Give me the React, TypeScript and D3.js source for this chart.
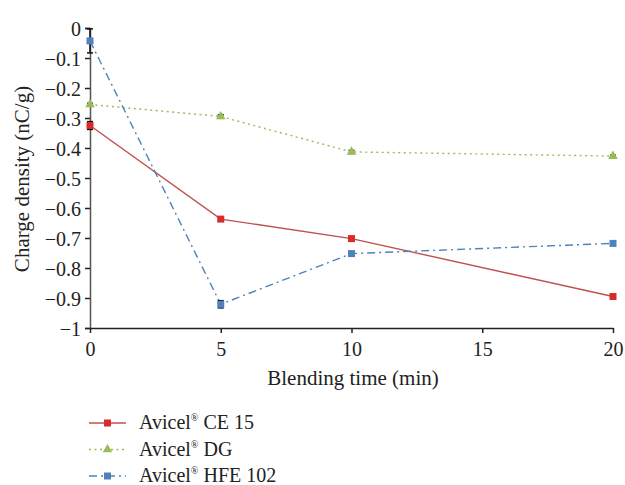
import React, { useRef, useEffect } from 'react';
import * as d3 from 'd3';

const times = [0, 5, 10, 20];
const seriesNames = ['CE 15', 'DG', 'HFE 102'];
const ce15 = [-0.325, -0.637, -0.702, -0.895];
const dg = [-0.255, -0.295, -0.413, -0.427];
const hfe102 = [-0.043, -0.921, -0.752, -0.718];
const ce15Err = [0.013, 0.006, 0.006, 0.004];
const dgErr = [0.004, 0.006, 0.005, 0.003];
const hfe102Err = [0.04, 0.012, 0.005, 0.004];
const xTicks = [0, 5, 10, 15, 20];
const yTicks = [0, -0.1, -0.2, -0.3, -0.4, -0.5, -0.6, -0.7, -0.8, -0.9, -1];

function App() {
  const ref = useRef<SVGSVGElement>(null);

  useEffect(() => {
    const svg = d3.select(ref.current);
    svg.selectAll('*').remove();
    const font = '"Liberation Serif", "DejaVu Serif", serif';

    const x = d3.scaleLinear().domain([0, 20]).range([90, 613]);
    const y = d3.scaleLinear().domain([-1, 0]).range([328, 28]);

    const series = [
      { name: seriesNames[0], values: ce15, err: ce15Err, line: '#c0504d', mark: '#d92b2b', dash: null, shape: 'square' },
      { name: seriesNames[1], values: dg, err: dgErr, line: '#9bbb59', mark: '#9bbb59', dash: '2,3.5', shape: 'triangle' },
      { name: seriesNames[2], values: hfe102, err: hfe102Err, line: '#4f81bd', mark: '#4f81bd', dash: '8,4,2,4', shape: 'square' },
    ];

    // axes
    const yAxis = svg.append('g').attr('transform', 'translate(90,0)')
      .call(d3.axisLeft(y).tickValues(yTicks).tickSize(5).tickFormat(d => d3.format('')(+d).replace('-', '\u2212')));
    yAxis.select('.domain').attr('stroke', '#555').attr('stroke-width', 1.5);
    yAxis.selectAll('.tick line').attr('stroke', '#222').attr('stroke-width', 1.5);
    yAxis.selectAll('.tick text').attr('font-family', font).attr('font-size', 20).attr('fill', '#222').attr('x', -9).attr('dy', '0.35em');

    const xAxis = svg.append('g').attr('transform', 'translate(0,328)')
      .call(d3.axisBottom(x).tickValues(xTicks).tickSize(5).tickSizeOuter(0));
    xAxis.select('.domain').attr('stroke', '#222').attr('stroke-width', 1.5);
    xAxis.selectAll('.tick line').attr('stroke', '#222').attr('stroke-width', 1.5);
    xAxis.selectAll('.tick text').attr('font-family', font).attr('font-size', 20).attr('fill', '#222').attr('y', 14);

    svg.append('text').attr('x', 353).attr('y', 385).attr('text-anchor', 'middle')
      .attr('font-family', font).attr('font-size', 21).attr('fill', '#222').text('Blending time (min)');
    svg.append('text').attr('transform', 'translate(29,179) rotate(-90)').attr('text-anchor', 'middle')
      .attr('font-family', font).attr('font-size', 21).attr('fill', '#222').text('Charge density (nC/g)');

    const line = d3.line<number>().x((_, i) => x(times[i])).y(d => y(d));

    const drawMarker = (g: any, s: any, cx: number, cy: number) => {
      if (s.shape === 'square') {
        g.append('rect').attr('x', cx - 3.5).attr('y', cy - 3.5).attr('width', 7).attr('height', 7).attr('fill', s.mark);
      } else {
        g.append('path').attr('d', d3.symbol().type(d3.symbolTriangle).size(40)()).attr('transform', `translate(${cx},${cy})`).attr('fill', s.mark);
      }
    };

    series.forEach(s => {
      const g = svg.append('g');
      g.append('path').datum(s.values).attr('d', line).attr('fill', 'none')
        .attr('stroke', s.line).attr('stroke-width', 1.4).attr('stroke-dasharray', s.dash);
      s.values.forEach((v, i) => {
        const cx = x(times[i]);
        const y1 = y(v + s.err[i]);
        const y2 = y(v - s.err[i]);
        g.append('line').attr('x1', cx).attr('x2', cx).attr('y1', y1).attr('y2', y2).attr('stroke', '#111').attr('stroke-width', 1.5);
        g.append('line').attr('x1', cx - 3).attr('x2', cx + 3).attr('y1', y1).attr('y2', y1).attr('stroke', '#111').attr('stroke-width', 1.5);
        g.append('line').attr('x1', cx - 3).attr('x2', cx + 3).attr('y1', y2).attr('y2', y2).attr('stroke', '#111').attr('stroke-width', 1.5);
        drawMarker(g, s, cx, y(v));
      });
    });

    // legend
    series.forEach((s, i) => {
      const ly = 423 + i * 26.5;
      const g = svg.append('g');
      g.append('line').attr('x1', 89).attr('x2', 126).attr('y1', ly).attr('y2', ly)
        .attr('stroke', s.line).attr('stroke-width', 1.4).attr('stroke-dasharray', s.dash);
      drawMarker(g, s, 107.5, ly);
      const t = g.append('text').attr('x', 139).attr('y', ly + 6).attr('font-family', font).attr('font-size', 20).attr('fill', '#222');
      t.append('tspan').text('Avicel');
      t.append('tspan').attr('font-size', 10).attr('dy', -8).text('®');
      t.append('tspan').attr('dy', 8).text(' ' + s.name);
    });
  }, []);

  return <svg ref={ref} width={625} height={485} style={{ position: 'absolute', left: 0, top: 0, background: '#fff' }} />;
}

export default App;
